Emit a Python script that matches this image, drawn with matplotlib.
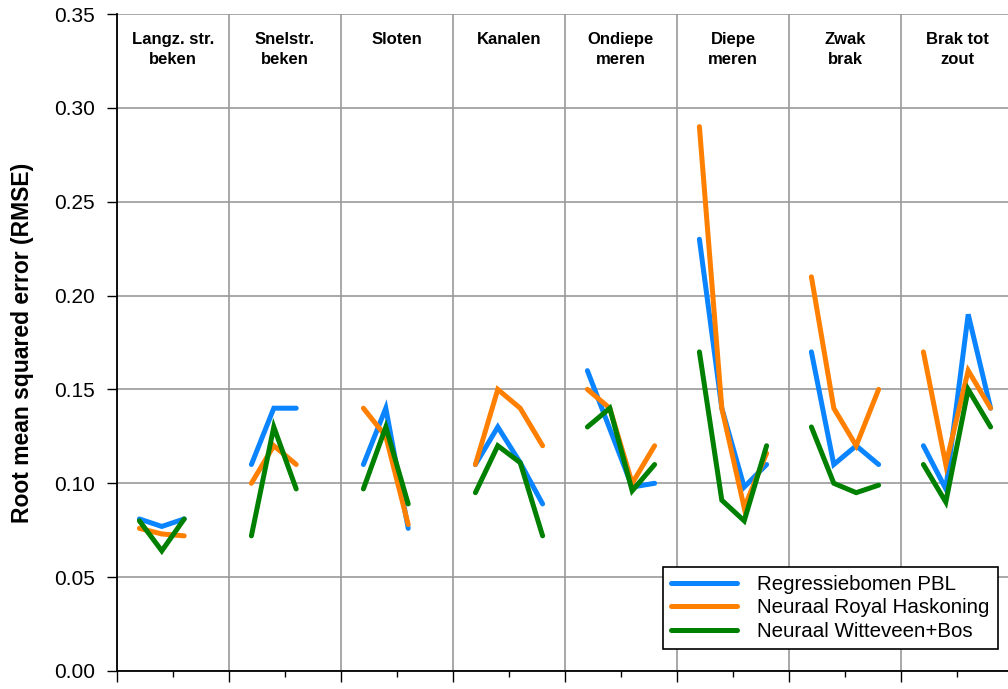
import matplotlib
matplotlib.use("Agg")
import matplotlib.pyplot as plt
from matplotlib.ticker import MultipleLocator
import matplotlib.transforms as mtransforms

plt.rcParams['font.family'] = ['Liberation Sans', 'DejaVu Sans']

groups = ["Langz. str.\nbeken", "Snelstr.\nbeken", "Sloten", "Kanalen",
          "Ondiepe\nmeren", "Diepe\nmeren", "Zwak\nbrak", "Brak tot\nzout"]

series_names = ["Regressiebomen PBL", "Neuraal Royal Haskoning", "Neuraal Witteveen+Bos"]

regressie_pbl = [
    [0.081, 0.077, 0.081],
    [0.110, 0.140, 0.140],
    [0.110, 0.140, 0.076],
    [0.110, 0.130, 0.111, 0.089],
    [0.160, 0.129, 0.098, 0.100],
    [0.230, 0.140, 0.098, 0.110],
    [0.170, 0.110, 0.120, 0.110],
    [0.120, 0.097, 0.190, 0.140],
]
royal_haskoning = [
    [0.076, 0.073, 0.072],
    [0.100, 0.120, 0.110],
    [0.140, 0.125, 0.078],
    [0.110, 0.150, 0.140, 0.120],
    [0.150, 0.140, 0.100, 0.120],
    [0.290, 0.140, 0.087, 0.116],
    [0.210, 0.140, 0.120, 0.150],
    [0.170, 0.110, 0.160, 0.140],
]
witteveen_bos = [
    [0.080, 0.064, 0.081],
    [0.072, 0.130, 0.097],
    [0.097, 0.130, 0.089],
    [0.095, 0.120, 0.111, 0.072],
    [0.130, 0.140, 0.096, 0.110],
    [0.170, 0.091, 0.080, 0.120],
    [0.130, 0.100, 0.095, 0.099],
    [0.110, 0.090, 0.150, 0.130],
]

colors = ["#0A84FF", "#FF8000", "#008000"]
slots = 5  # category slots per group

fig = plt.figure(figsize=(10.08, 6.89), dpi=100)
ax = fig.add_axes([117 / 1008, 18 / 689, 896 / 1008, 657 / 689])

for name, data, c in zip(series_names, [regressie_pbl, royal_haskoning, witteveen_bos], colors):
    for g, vals in enumerate(data):
        xs = [g * slots + k + 1 for k in range(len(vals))]
        ax.plot(xs, vals, color=c, lw=3.6, solid_capstyle='round',
                solid_joinstyle='miter', label=name if g == 0 else None, zorder=3)

ax.set_xlim(0, len(groups) * slots)
ax.set_ylim(0, 0.35)
ax.yaxis.set_major_locator(MultipleLocator(0.05))
ax.yaxis.set_major_formatter(plt.FuncFormatter(lambda v, p: f"{v:.2f}"))
ax.xaxis.set_major_locator(MultipleLocator(slots))
ax.xaxis.set_minor_locator(MultipleLocator(slots / 2))
ax.xaxis.set_major_formatter(plt.NullFormatter())
ax.grid(True, which='major', color='#999999', lw=1.2, zorder=0)

ax.tick_params(axis='y', direction='out', length=7, width=1, pad=9, labelsize=15)
ax.tick_params(axis='x', which='major', direction='out', length=8, width=1)
ax.tick_params(axis='x', which='minor', direction='out', length=4, width=1)

for s in ['top', 'right']:
    ax.spines[s].set_visible(False)
for s in ['left', 'bottom']:
    ax.spines[s].set_linewidth(1.3)
    ax.spines[s].set_color('black')

ax.set_ylabel("Root mean squared error (RMSE)", fontsize=16.5, fontweight='bold', labelpad=14)

trans = mtransforms.blended_transform_factory(ax.transData, ax.transAxes)
for g, label in enumerate(groups):
    ax.text(g * slots + slots / 2, 0.973, label, transform=trans, ha='center', va='top',
            fontsize=12, fontweight='bold', multialignment='center', linespacing=1.45)

leg = ax.legend(loc='lower right', bbox_to_anchor=(998 / 1008, 40 / 689),
                bbox_transform=fig.transFigure, fontsize=14.8, frameon=True, fancybox=False,
                edgecolor='black', framealpha=1, handlelength=3.2, handletextpad=1.0,
                borderpad=0.4, labelspacing=0.22, borderaxespad=0)
leg.get_frame().set_linewidth(1.2)
leg.set_zorder(5)

fig.savefig("out.png", dpi=100)
